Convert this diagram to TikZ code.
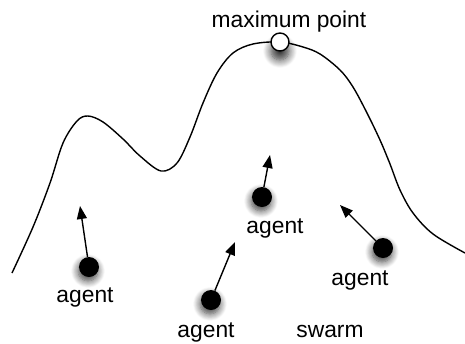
\documentclass[tikz,border=0pt]{standalone}
\usepackage{fontspec}
\setmainfont{Liberation Sans}
\usetikzlibrary{arrows.meta,shadows.blur}
\begin{document}
\begin{tikzpicture}[x=1pt,y=-1pt,
  landscape/.style={line width=1.4pt, line join=round},
  agentdot/.style={circle, fill=black, minimum size=20pt, inner sep=0pt,
    blur shadow={shadow xshift=-1pt, shadow yshift=-4pt, shadow blur radius=7pt,
      shadow opacity=75, shadow blur steps=10}},
  peakdot/.style={circle, draw=black, line width=1.4pt, fill=white, minimum size=18pt, inner sep=0pt,
    blur shadow={shadow xshift=0pt, shadow yshift=-9pt, shadow blur radius=8pt,
      shadow opacity=80, shadow blur steps=10}},
  heading/.style={line width=1.4pt, -{Triangle[length=13pt,width=10pt]}},
  lbl/.style={font=\fontsize{22.8pt}{24pt}\selectfont, anchor=base, inner sep=0pt}
]
\useasboundingbox (0,0) rectangle (465,343);

% fitness landscape
\draw[landscape] plot[smooth, tension=0.55] coordinates {
  (12,273) (33,227) (50,183) (63,143) (77,121) (88,116) (103,122) (123,139)
  (140,156) (161,171) (177,163) (190,137) (203,103) (217,73) (233,53)
  (253,44) (280,42) (303,47) (320,54) (340,70) (353,87) (367,113)
  (380,140) (390,164) (400,190) (413,213) (433,234) (465,253)};

% global optimum
\node[peakdot] (peak) at (280,42) {};
\node[lbl] (peaklbl) at (289,27) {maximum point};

% agents and their headings
\node[agentdot] (a1) at (89,267) {};
\node[agentdot] (a2) at (262,197) {};
\node[agentdot] (a3) at (211,300) {};
\node[agentdot] (a4) at (383,248) {};

\coordinate (t1) at (80,206);
\coordinate (t2) at (270,155);
\coordinate (t3) at (235,242);
\coordinate (t4) at (340,205);

\draw[heading] (a1) -- (t1);
\draw[heading] (a2) -- (t2);
\draw[heading] (a3) -- (t3);
\draw[heading] (a4) -- (t4);

\node[lbl] (l1) at (85,302) {agent};
\node[lbl] (l2) at (275,233) {agent};
\node[lbl] (l3) at (206,337) {agent};
\node[lbl] (l4) at (360,285) {agent};
\node[lbl] (sw) at (330,337) {swarm};
\end{tikzpicture}
\end{document}
